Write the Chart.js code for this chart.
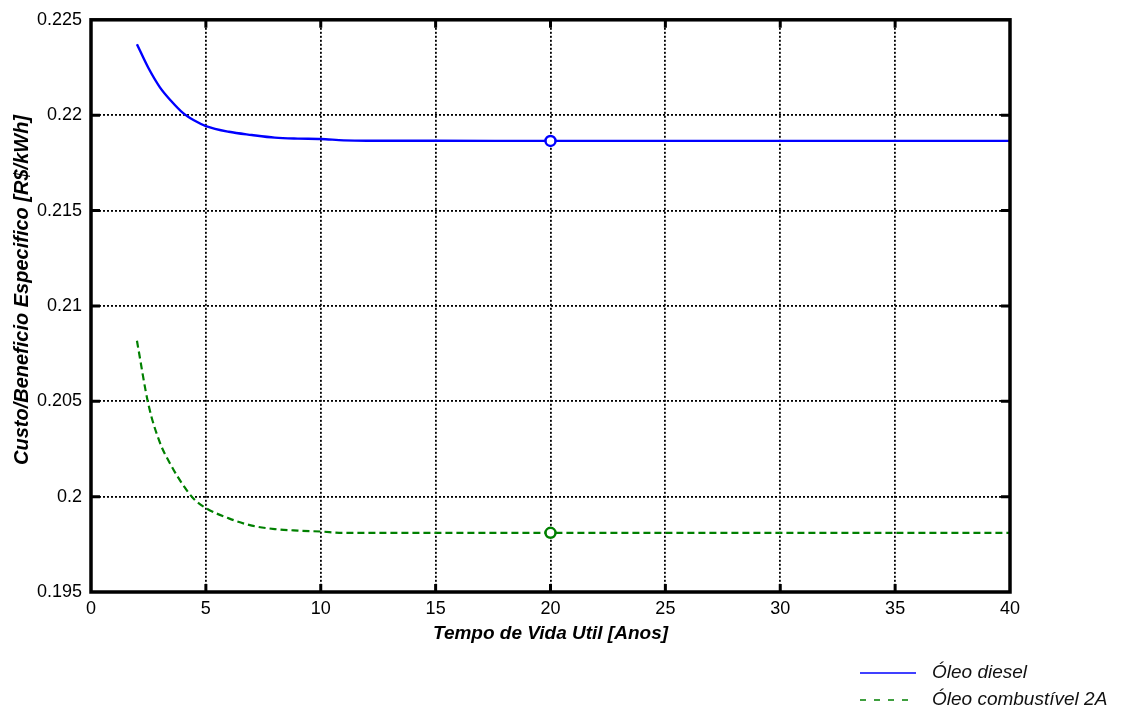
<!DOCTYPE html>
<html>
<head>
<meta charset="utf-8">
<script src="https://cdn.jsdelivr.net/npm/chart.js@4.4.0/dist/chart.umd.min.js"></script>
<style>
  html, body { margin: 0; padding: 0; background: #fff; }
  #wrap { width: 1122px; height: 711px; }
</style>
</head>
<body>
<div id="wrap"><canvas id="custoChart" width="1122" height="711"></canvas></div>
<script>
// dados
const anos = [2, 2.5, 3, 3.5, 4, 4.5, 5, 6, 7, 8, 9, 10, 11, 12, 15, 20, 25, 30, 35, 40];
const oleoDiesel = [0.22372, 0.22247, 0.22146, 0.22073, 0.22012, 0.21972, 0.21943, 0.21913, 0.21896, 0.21882,
                    0.21877, 0.21875, 0.21868, 0.21866, 0.21866, 0.21865, 0.21865, 0.21865, 0.21865, 0.21865];
const oleoComb2A = [0.20817, 0.20483, 0.20283, 0.20161, 0.20062, 0.19985, 0.1994, 0.19886, 0.19848, 0.1983,
                    0.19822, 0.19817, 0.1981, 0.1981, 0.1981, 0.1981, 0.1981, 0.1981, 0.1981, 0.1981];
const xTicks = [0, 5, 10, 15, 20, 25, 30, 35, 40];
const yTicks = [0.195, 0.2, 0.205, 0.21, 0.215, 0.22, 0.225];
const anoMarcado = 20;
const nomes = ['Óleo diesel', 'Óleo combustível 2A'];
const tituloY = 'Custo/Beneficio Especifico [R$/kWh]';

const fonte = '"Liberation Sans", Arial, sans-serif';

function pontos(vals) {
    return anos.map((a, i) => ({ x: a, y: vals[i] }));
}

const raioMarca = ctx => (ctx.raw && ctx.raw.x === anoMarcado ? 5 : 0);

// moldura grossa e marcas internas
const molduraPlugin = {
    id: 'moldura',
    afterDatasetsDraw(chart) {
        const { ctx, chartArea: a, scales: { x, y } } = chart;
        ctx.save();
        ctx.strokeStyle = '#000';
        ctx.lineWidth = 3;
        ctx.setLineDash([]);
        xTicks.slice(1, -1).forEach(v => {
            const px = x.getPixelForValue(v);
            ctx.beginPath();
            ctx.moveTo(px, a.bottom); ctx.lineTo(px, a.bottom - 8);
            ctx.moveTo(px, a.top); ctx.lineTo(px, a.top + 8);
            ctx.stroke();
        });
        yTicks.slice(1, -1).forEach(v => {
            const py = y.getPixelForValue(v);
            ctx.beginPath();
            ctx.moveTo(a.left, py); ctx.lineTo(a.left + 9, py);
            ctx.moveTo(a.right, py); ctx.lineTo(a.right - 9, py);
            ctx.stroke();
        });
        ctx.lineWidth = 3.5;
        ctx.strokeRect(a.left, a.top, a.right - a.left, a.bottom - a.top);
        ctx.restore();
    }
};

// titulo do eixo y e legenda
const textosPlugin = {
    id: 'textos',
    afterDraw(chart) {
        const ctx = chart.ctx;
        ctx.save();
        ctx.translate(22, 290);
        ctx.rotate(-Math.PI / 2);
        ctx.fillStyle = '#000';
        ctx.font = 'italic bold 20px ' + fonte;
        ctx.textAlign = 'center';
        ctx.textBaseline = 'middle';
        ctx.fillText(tituloY, 0, 0);
        ctx.restore();

        ctx.save();
        chart.data.datasets.forEach((ds, i) => {
            const y = 673 + i * 27;
            ctx.strokeStyle = ds.borderColor;
            ctx.lineWidth = 1.6;
            ctx.setLineDash(i ? [6, 8] : []);
            ctx.beginPath();
            ctx.moveTo(860, y); ctx.lineTo(916, y);
            ctx.stroke();
            ctx.setLineDash([]);
            ctx.fillStyle = '#111';
            ctx.font = 'italic 19px ' + fonte;
            ctx.textBaseline = 'middle';
            ctx.fillText(ds.label, 932, y);
        });
        ctx.restore();
    }
};

const chart = new Chart(document.getElementById('custoChart'), {
    type: 'line',
    data: {
        datasets: [
            {
                label: nomes[0],
                data: pontos(oleoDiesel),
                borderColor: '#0000ff',
                backgroundColor: '#ffffff',
                borderWidth: 2.4,
                pointRadius: raioMarca,
                pointBorderWidth: 2.5,
                pointBackgroundColor: '#ffffff',
                pointBorderColor: '#0000ff',
                cubicInterpolationMode: 'monotone',
                fill: false
            },
            {
                label: nomes[1],
                data: pontos(oleoComb2A),
                borderColor: '#008000',
                backgroundColor: '#ffffff',
                borderWidth: 2.2,
                borderDash: [7, 4],
                pointRadius: raioMarca,
                pointBorderWidth: 2.5,
                pointBackgroundColor: '#ffffff',
                pointBorderColor: '#008000',
                cubicInterpolationMode: 'monotone',
                fill: false
            }
        ]
    },
    options: {
        responsive: false,
        animation: false,
        devicePixelRatio: 1,
        layout: { padding: { top: 17, right: 112, left: 0, bottom: 0 } },
        plugins: {
            legend: { display: false },
            tooltip: { enabled: false }
        },
        scales: {
            x: {
                type: 'linear',
                min: 0,
                max: 40,
                afterFit: s => { s.height = 119; },
                afterBuildTicks: s => { s.ticks = xTicks.map(v => ({ value: v })); },
                grid: { color: '#000', lineWidth: 1.8, drawTicks: false },
                border: { display: false, dash: [2, 2] },
                ticks: {
                    color: '#000',
                    padding: 6,
                    maxRotation: 0,
                    font: { family: fonte, size: 18 }
                },
                title: {
                    display: true,
                    text: 'Tempo de Vida Util [Anos]',
                    color: '#000',
                    font: { family: fonte, size: 19, weight: 'bold', style: 'italic' },
                    padding: { top: 0, bottom: 66 }
                }
            },
            y: {
                type: 'linear',
                min: 0.195,
                max: 0.225,
                afterFit: s => { s.width = 91; },
                afterBuildTicks: s => { s.ticks = yTicks.map(v => ({ value: v })); },
                grid: { color: '#000', lineWidth: 1.8, drawTicks: false },
                border: { display: false, dash: [2, 2] },
                ticks: {
                    color: '#000',
                    padding: 9,
                    font: { family: fonte, size: 18 },
                    callback: v => String(+v.toFixed(3))
                },
                title: { display: false }
            }
        }
    },
    plugins: [molduraPlugin, textosPlugin]
});
</script>
</body>
</html>
